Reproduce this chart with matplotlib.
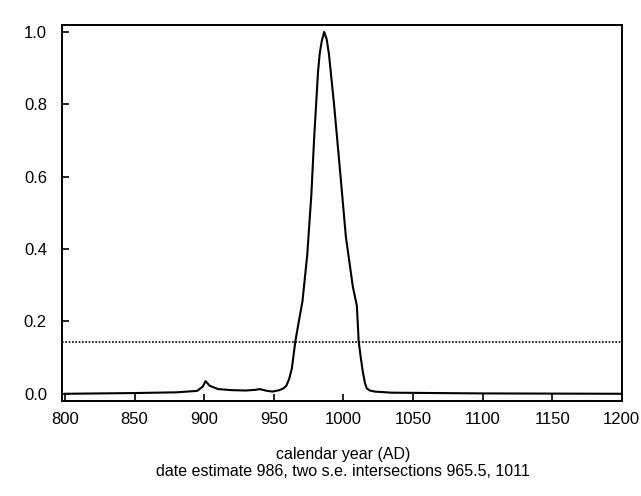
import numpy as np
import matplotlib
matplotlib.use("Agg")
import matplotlib.pyplot as plt

# Calibrated date probability
years = [800, 850, 880, 895, 899, 901, 904, 910, 920, 930, 937, 940, 944, 949,
         954, 957, 959, 961, 963, 965.5, 968, 970.6, 974, 977, 979, 981.8, 983,
         984.5, 986.2, 988, 989.6, 993.3, 997.6, 1001.8, 1006.8, 1009.7, 1011,
         1012.5, 1014, 1015.5, 1016.8, 1019, 1022.8, 1035, 1100, 1200]
prob = [0.0, 0.002, 0.004, 0.008, 0.02, 0.035, 0.022, 0.013, 0.01, 0.009,
        0.011, 0.013, 0.009, 0.006, 0.01, 0.015, 0.022, 0.04, 0.07, 0.145,
        0.2, 0.255, 0.382, 0.55, 0.706, 0.89, 0.94, 0.975, 1.0, 0.98, 0.94,
        0.80, 0.617, 0.434, 0.296, 0.243, 0.145, 0.1, 0.06, 0.03, 0.015,
        0.009, 0.006, 0.003, 0.001, 0.0]
threshold = 0.143

xticks = [800, 850, 900, 950, 1000, 1050, 1100, 1150, 1200]
yticks = [0.0, 0.2, 0.4, 0.6, 0.8, 1.0]

plt.rcParams["font.family"] = ["Liberation Sans", "DejaVu Sans"]

fig = plt.figure(figsize=(6.41, 4.96), dpi=100)
ax = fig.add_axes([0.097, 0.1915, 0.873, 0.758])

ax.plot(years, prob, color="black", lw=1.5)
ax.axhline(threshold, color="black", lw=1.2, linestyle=(0, (1, 1)))

ax.set_xlim(798, 1200)
ax.set_ylim(-0.02, 1.019)
ax.set_xticks(xticks)
ax.set_yticks(yticks)
ax.set_yticklabels(["%.1f" % v for v in yticks])

for s in ax.spines.values():
    s.set_linewidth(1.4)
ax.tick_params(direction="in", length=5, width=1.2, labelsize=12)
ax.tick_params(axis="y", pad=11)
ax.tick_params(axis="x", pad=8)

fig.text(0.535, 0.083, "calendar year (AD)", ha="center", va="center",
         fontsize=11.5)
fig.text(0.535, 0.05, "date estimate 986, two s.e. intersections 965.5, 1011",
         ha="center", va="center", fontsize=11.5)

fig.savefig("out.png", dpi=100)
